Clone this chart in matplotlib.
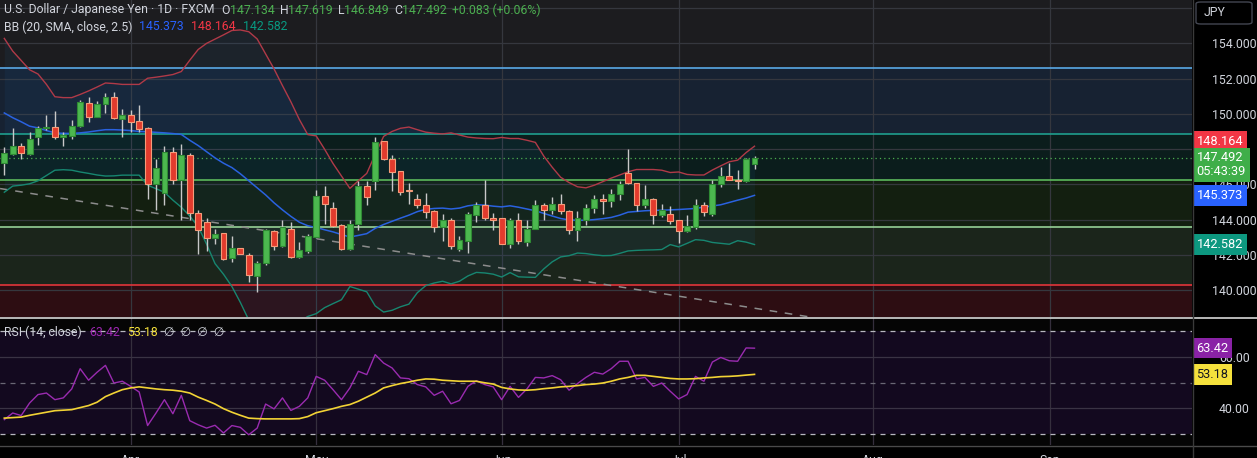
import numpy as np
import matplotlib.pyplot as plt
from matplotlib.lines import Line2D
from matplotlib.patches import FancyBboxPatch
from matplotlib.transforms import blended_transform_factory

plt.rcParams['font.family'] = ['Roboto', 'DejaVu Sans']

# USD/JPY daily candles (FXCM)
opens = [147.22, 147.71, 148.20, 147.71, 148.70, 149.17, 149.23, 148.66, 148.74, 149.30,
         150.63, 149.83, 150.53, 150.97, 149.72, 149.93, 149.60, 149.21, 145.99, 145.48,
         147.81, 146.23, 147.69, 144.40, 143.87, 142.98, 143.24, 141.79, 142.39, 142.01,
         140.78, 141.54, 143.36, 142.50, 143.49, 141.88, 142.22, 143.01, 145.33, 144.63,
         143.68, 142.33, 143.73, 145.89, 146.17, 148.45, 147.41, 146.75, 145.65, 145.19,
         144.80, 144.47, 143.58, 143.96, 142.32, 142.79, 144.25, 144.81, 144.11, 144.06,
         142.64, 143.96, 142.73, 143.49, 144.80, 144.57, 144.87, 144.49, 143.43, 143.96,
         144.68, 145.19, 145.06, 145.44, 146.65, 146.10, 144.82, 145.14, 144.25, 144.30,
         143.96, 143.36, 143.58, 144.85, 144.34, 146.04, 146.50, 146.25, 146.20, 147.134]
highs = [148.09, 149.21, 148.32, 148.98, 149.30, 149.93, 150.17, 148.98, 149.64, 150.78,
         150.93, 150.72, 151.16, 151.23, 150.25, 150.21, 150.50, 149.27, 147.41, 148.17,
         148.13, 148.28, 147.75, 144.53, 144.06, 143.49, 143.26, 143.05, 142.39, 142.11,
         141.65, 143.49, 143.43, 144.00, 143.87, 142.70, 143.20, 145.70, 145.91, 145.00,
         143.73, 143.96, 146.20, 146.20, 148.66, 148.47, 147.66, 146.77, 146.06, 145.44,
         145.48, 144.53, 144.34, 144.06, 143.05, 144.44, 145.00, 146.27, 144.40, 144.06,
         144.06, 144.38, 143.96, 145.10, 144.95, 145.29, 145.44, 144.53, 144.47, 144.91,
         145.38, 145.44, 145.76, 146.18, 147.98, 146.10, 145.95, 145.25, 144.91, 144.76,
         144.00, 144.25, 145.19, 145.00, 146.23, 146.99, 147.22, 146.80, 147.47, 147.619]
lows = [146.52, 147.66, 147.41, 147.66, 148.22, 149.08, 148.60, 148.17, 148.58, 149.27,
        149.55, 149.80, 150.02, 149.68, 148.70, 148.98, 148.98, 145.19, 144.53, 144.81,
        145.99, 144.00, 144.00, 142.07, 142.22, 142.60, 141.69, 141.60, 142.07, 140.46,
        139.89, 141.40, 142.26, 142.45, 141.84, 141.84, 142.13, 142.98, 143.73, 143.55,
        142.26, 142.30, 143.39, 144.81, 145.67, 147.37, 145.63, 145.38, 144.91, 144.68,
        144.11, 143.30, 142.79, 142.35, 142.22, 142.13, 143.87, 144.00, 143.43, 142.60,
        142.39, 142.64, 142.50, 143.45, 144.00, 144.34, 144.34, 143.17, 142.79, 143.68,
        144.38, 144.34, 144.72, 145.10, 146.00, 144.49, 144.63, 143.77, 144.15, 143.73,
        142.68, 143.30, 143.49, 144.19, 144.19, 145.86, 146.23, 145.72, 146.14, 146.849]
closes = [147.75, 148.20, 147.75, 148.60, 149.17, 149.25, 148.66, 148.79, 149.30, 150.69,
          149.83, 150.53, 150.97, 149.74, 149.91, 149.55, 149.13, 145.99, 146.92, 147.81,
          146.23, 147.69, 144.40, 143.39, 142.98, 143.20, 141.75, 142.41, 142.07, 140.84,
          141.56, 143.39, 142.50, 143.58, 141.88, 142.26, 143.05, 145.33, 144.91, 143.62,
          142.33, 143.77, 145.89, 145.29, 148.41, 147.41, 146.71, 145.57, 145.60, 144.80,
          144.44, 143.58, 143.96, 142.50, 142.83, 144.30, 144.81, 144.09, 144.00, 142.64,
          143.96, 142.77, 143.49, 144.80, 144.57, 144.87, 144.49, 143.43, 144.06, 144.68,
          145.19, 145.08, 145.44, 146.04, 146.08, 144.85, 145.14, 144.27, 144.57, 143.92,
          143.36, 143.62, 144.85, 144.44, 146.04, 146.50, 146.27, 146.21, 147.409, 147.492]

# Bollinger Bands (20, SMA, close, 2.5) as drawn
bb_upper = [154.28, 153.56, 153.03, 152.50, 152.26, 151.67, 150.97, 150.92, 150.92, 151.10,
            151.30, 151.52, 151.75, 151.72, 151.67, 151.67, 151.67, 152.02, 152.08, 152.15,
            152.23, 152.40, 153.04, 153.65, 154.00, 154.24, 154.48, 154.73, 154.76, 154.66,
            154.25, 153.40, 152.55, 151.60, 150.68, 149.68, 148.82, 148.75, 147.99, 147.18,
            146.47, 145.77, 146.20, 146.62, 147.70, 148.72, 149.00, 149.18, 149.25, 149.10,
            148.96, 148.90, 148.86, 148.92, 148.80, 148.68, 148.63, 148.60, 148.59, 148.66,
            148.60, 148.60, 148.50, 148.38, 147.60, 146.97, 146.40, 146.10, 145.86, 145.80,
            145.95, 146.15, 146.35, 146.53, 146.71, 146.84, 146.84, 146.84, 146.80, 146.67,
            146.70, 146.56, 146.53, 146.53, 146.81, 147.05, 147.28, 147.37, 147.80, 148.164]
bb_basis = [150.05, 149.78, 149.55, 149.30, 149.20, 149.05, 148.92, 148.89, 148.89, 148.92,
            148.97, 149.04, 149.10, 149.10, 149.08, 149.05, 149.00, 148.98, 148.95, 148.92,
            148.88, 148.83, 148.50, 148.20, 147.85, 147.50, 147.20, 146.95, 146.60, 146.20,
            145.80, 145.40, 144.95, 144.55, 144.18, 143.85, 143.65, 143.55, 143.42, 143.30,
            143.15, 143.01, 143.10, 143.20, 143.50, 143.72, 143.90, 144.08, 144.25, 144.45,
            144.58, 144.63, 144.65, 144.60, 144.65, 144.78, 144.84, 144.82, 144.76, 144.72,
            144.78, 144.70, 144.60, 144.50, 144.35, 144.20, 144.06, 143.98, 143.96, 143.96,
            144.00, 144.05, 144.12, 144.25, 144.42, 144.46, 144.50, 144.52, 144.53, 144.55,
            144.57, 144.60, 144.63, 144.71, 144.77, 144.84, 144.97, 145.10, 145.22, 145.373]
bb_lower = [145.55, 145.90, 145.95, 146.03, 146.20, 146.50, 146.80, 146.83, 146.80, 146.70,
            146.62, 146.53, 146.47, 146.48, 146.52, 146.52, 146.52, 145.95, 145.75, 145.55,
            145.10, 144.70, 144.20, 143.60, 142.60, 141.50, 140.90, 140.20, 139.30, 138.30,
            137.80, 137.50, 137.40, 137.50, 137.80, 138.20, 138.50, 138.66, 139.00, 139.23,
            139.45, 140.20, 140.05, 139.90, 139.10, 138.75, 138.85, 139.05, 139.20, 139.85,
            140.25, 140.40, 140.50, 140.35, 140.50, 140.80, 141.00, 140.97, 140.90, 140.74,
            140.99, 140.75, 140.73, 140.72, 141.20, 141.60, 141.88, 141.95, 142.10, 142.07,
            142.00, 141.95, 141.96, 142.08, 142.22, 142.25, 142.27, 142.28, 142.30, 142.58,
            142.45, 142.65, 142.86, 142.82, 142.70, 142.65, 142.60, 142.80, 142.72, 142.582]

# RSI (14, close) and its moving average
rsi = [35.5, 38.1, 37.1, 42.0, 45.3, 45.9, 43.3, 44.0, 47.5, 55.4,
       50.9, 54.0, 56.7, 49.8, 50.5, 48.5, 46.3, 33.2, 38.1, 43.3,
       37.8, 45.0, 35.1, 33.5, 32.2, 33.3, 30.3, 33.2, 32.5, 29.6,
       32.2, 41.6, 39.7, 44.0, 39.1, 40.7, 44.0, 52.4, 50.9, 47.2,
       43.3, 47.9, 54.4, 53.1, 60.9, 57.6, 55.7, 51.8, 51.5, 49.2,
       48.3, 45.0, 46.6, 41.7, 43.0, 48.5, 50.7, 49.2, 48.3, 43.3,
       48.5, 44.2, 47.5, 52.0, 51.8, 52.7, 51.1, 47.0, 49.6, 52.0,
       54.0, 53.3, 55.4, 58.3, 58.3, 51.4, 52.0, 48.5, 49.8, 46.6,
       43.6, 45.3, 52.4, 50.5, 58.0, 59.8, 58.5, 58.3, 63.5, 63.42]
rsi_ma = [36.1, 36.3, 36.5, 37.2, 37.8, 38.4, 39.0, 39.2, 39.4, 40.2,
          41.0, 42.3, 44.5, 45.9, 47.2, 47.9, 48.3, 47.9, 47.5, 47.2,
          47.0, 46.6, 45.9, 44.3, 43.0, 41.6, 39.8, 38.4, 37.2, 36.1,
          35.9, 35.8, 35.8, 35.8, 35.8, 35.9, 36.7, 38.2, 39.0, 39.8,
          40.7, 41.4, 42.7, 44.3, 45.9, 47.9, 48.8, 49.6, 50.2, 50.9,
          51.4, 51.3, 50.9, 50.7, 50.5, 50.5, 50.5, 49.9, 49.4, 48.1,
          47.5, 47.1, 47.0, 47.2, 47.6, 47.9, 48.3, 48.5, 48.8, 49.2,
          49.4, 49.8, 50.5, 51.4, 52.0, 52.8, 52.8, 52.4, 52.0, 51.6,
          51.4, 51.4, 51.5, 51.8, 52.0, 52.3, 52.4, 52.6, 52.9, 53.18]

# horizontal levels (top to bottom) and the zones between them
levels = [152.58, 148.83, 146.22, 143.55, 140.31]
level_colors = ['#5aa9e6', '#1f9e8e', '#5cb85c', '#96d096', '#e0353a']
zone_colors = ['#1c1c1f', '#172232', '#0b1d1c', '#131f10', '#1b251b', '#2d0d12']

# dashed trend line (candle index, price)
trend_x = [-0.5, 96.5]
trend_y = [145.76, 138.40]

month_idx = [15, 37, 59, 80, 103, 124]
month_names = ['Apr', 'May', 'Jun', 'Jul', 'Aug', 'Sep']
grid_prices = [140, 142, 144, 146, 148, 150, 152, 154, 156]
price_ticks = [140, 142, 144, 146, 150, 152, 154]   # 148.000 sits under the tags
rsi_ticks = [40, 60]

W, H = 1257, 458
fig = plt.figure(figsize=(W / 100, H / 100), dpi=100, facecolor='black')


def box(x0, y0, x1, y1):
    return [x0 / W, 1 - y1 / H, (x1 - x0) / W, (y1 - y0) / H]


ax = fig.add_axes(box(0, 0, 1192, 317))
ax2 = fig.add_axes(box(0, 318, 1192, 445), sharex=ax)

y_lo, y_hi = 138.47, 156.46
x_lo, x_hi = -0.51, 140.9
ax.set_xlim(x_lo, x_hi)
ax.set_ylim(y_lo, y_hi)
ax.set_facecolor(zone_colors[0])

bounds = [y_hi] + levels + [y_lo]
for i, col in enumerate(zone_colors):
    ax.axhspan(bounds[i + 1], bounds[i], color=col, lw=0, zorder=0)

for v in grid_prices:
    ax.axhline(v, color='#35373e', lw=0.9, zorder=1)
for m in month_idx:
    ax.axvline(m, color='#35373e', lw=0.9, zorder=1)
    ax2.axvline(m, color='#352f3d', lw=0.9, zorder=1)

for lv, col in zip(levels, level_colors):
    ax.axhline(lv, color=col, lw=1.2, zorder=2)

ax.plot(trend_x, trend_y, color='#8c8c8c', lw=1.1, dashes=(5, 5), zorder=2)

idx = np.arange(len(closes))
o = np.array(opens)
h = np.array(highs)
l = np.array(lows)
c = np.array(closes)

ax.fill_between(idx, bb_lower, bb_upper, color='#2196f3', alpha=0.06, lw=0, zorder=1.5)
ax.plot(idx, bb_upper, color='#b03a48', lw=1.0, zorder=3)
ax.plot(idx, bb_basis, color='#2a62e0', lw=1.1, zorder=3)
ax.plot(idx, bb_lower, color='#178670', lw=1.0, zorder=3)

# last price dotted line
ax.axhline(closes[-1], color='#4caf50', lw=0.9, ls=(0, (1, 2.5)), zorder=2)

up = c >= o
ax.vlines(idx, l, h, color='#c8c8c8', lw=1, zorder=4)
ax.bar(idx[up], (c - o)[up], bottom=o[up], width=0.7, color='#4cb84f',
       edgecolor='#2f8a34', lw=0.8, zorder=5)
ax.bar(idx[~up], (o - c)[~up], bottom=c[~up], width=0.7, color='#e23b2d',
       edgecolor='#f59c7a', lw=0.8, zorder=5)

ax.set_yticks(price_ticks)
ax.set_yticklabels([f'{v:.3f}' for v in price_ticks])
ax.tick_params(axis='y', left=False, right=False, labelleft=False, labelright=True,
               colors='#d1d4dc', labelsize=8.8, pad=11)
ax.tick_params(axis='x', bottom=False, labelbottom=False)
for s in ax.spines.values():
    s.set_visible(False)

# RSI pane
ax2.set_ylim(25.6, 75.2)
ax2.set_facecolor('#050505')
ax2.axhspan(30, 70, color='#13091f', lw=0, zorder=0)
for v in rsi_ticks:
    ax2.axhline(v, color='#3a3344', lw=0.9, zorder=1)
ax2.axhline(70, color='#b8b8c0', lw=0.9, dashes=(4, 4), zorder=2)
ax2.axhline(30, color='#b8b8c0', lw=0.9, dashes=(4, 4), zorder=2)
ax2.axhline(50, color='#6a6775', lw=0.9, dashes=(4, 4), zorder=2)
ax2.plot(idx, rsi_ma, color='#f2d335', lw=1.2, zorder=4)
ax2.plot(idx, rsi, color='#9a2bb0', lw=1.0, zorder=3)
ax2.set_yticks(rsi_ticks)
ax2.set_yticklabels([f'{v:.2f}' for v in rsi_ticks])
ax2.tick_params(axis='y', left=False, right=False, labelleft=False, labelright=True,
                colors='#d1d4dc', labelsize=8.8, pad=16)
ax2.tick_params(axis='x', bottom=False, labelbottom=False)
for s in ax2.spines.values():
    s.set_visible(False)

# pane separators and axis lines
fig.add_artist(Line2D([0, 1], [1 - 317.5 / H] * 2, color='#d8d8d8', lw=1.2))
fig.add_artist(Line2D([0, 1], [1 - 445.5 / H] * 2, color='#4a4a4a', lw=1))
fig.add_artist(Line2D([1192.5 / W] * 2, [0, 1], color='#3a3a3a', lw=1))

# month labels, mostly cut off at the bottom edge of the screenshot
tr = blended_transform_factory(ax2.transData, fig.transFigure)
for m, name in zip(month_idx, month_names):
    fig.text(m, 1 - 464.5 / H, name, transform=tr, ha='center', va='baseline',
             color='#d1d4dc', fontsize=8.8)


def tag(a, y, s, fc, tc='white', dy=0):
    a.annotate(s, xy=(1.0, y), xycoords=a.get_yaxis_transform(), xytext=(3.2, dy),
               textcoords='offset points', ha='left', va='center', fontsize=9.2,
               color=tc, annotation_clip=False, zorder=10, linespacing=1.1,
               bbox=dict(boxstyle='square,pad=0.3', fc=fc, ec='none'))


tag(ax, bb_upper[-1], f'{bb_upper[-1]:.3f}', '#f23645', dy=3.4)
tag(ax, closes[-1], f'{closes[-1]:.3f}\n05:43:39', '#3fae49', dy=-5)
tag(ax, bb_basis[-1], f'{bb_basis[-1]:.3f}', '#2962ff')
tag(ax, bb_lower[-1], f'{bb_lower[-1]:.3f}', '#0d9880')
tag(ax2, rsi[-1], f'{rsi[-1]:.2f}', '#8a22a6')
tag(ax2, rsi_ma[-1], f'{rsi_ma[-1]:.2f}', '#f5e13c', tc='#131722')

# JPY box
fig.add_artist(FancyBboxPatch((1196 / W, 1 - 24 / H), 56 / W, 22 / H,
                              boxstyle='round,pad=0,rounding_size=0.004',
                              transform=fig.transFigure, fc='black', ec='#434651', lw=1))
fig.text(1204 / W, 1 - 13 / H, 'JPY', color='#d1d4dc', fontsize=8.8, va='center')

# legends
fig.canvas.draw()
rend = fig.canvas.get_renderer()


def row(x, y, parts, size=8.8):
    for s, col, gap in parts:
        t = fig.text(x / W, 1 - y / H, s, color=col, fontsize=size, va='center', ha='left')
        x += t.get_window_extent(rend).width + gap


grey = '#d1d4dc'
green = '#4caf50'
chg = closes[-1] - closes[-2]
row(4, 10, [('U.S. Dollar / Japanese Yen · 1D · FXCM', grey, 7),
            ('O', grey, 0), (f'{opens[-1]:.3f}', green, 5),
            ('H', grey, 0), (f'{highs[-1]:.3f}', green, 5),
            ('L', grey, 0), (f'{lows[-1]:.3f}', green, 5),
            ('C', grey, 0), (f'{closes[-1]:.3f}', green, 5),
            (f'{chg:+.3f} ({chg / closes[-2] * 100:+.2f}%)', green, 0)])
row(4, 27, [('BB (20, SMA, close, 2.5)', grey, 7),
            (f'{bb_basis[-1]:.3f}', '#2962ff', 7),
            (f'{bb_upper[-1]:.3f}', '#f23645', 7),
            (f'{bb_lower[-1]:.3f}', '#089981', 0)])
row(4, 332, [('RSI (14, close)', grey, 7),
             (f'{rsi[-1]:.2f}', '#9c27b0', 7),
             (f'{rsi_ma[-1]:.2f}', '#f5e13c', 7),
             ('∅  ∅  ∅  ∅', grey, 0)])

fig.savefig('out.png', dpi=100, facecolor='black')
